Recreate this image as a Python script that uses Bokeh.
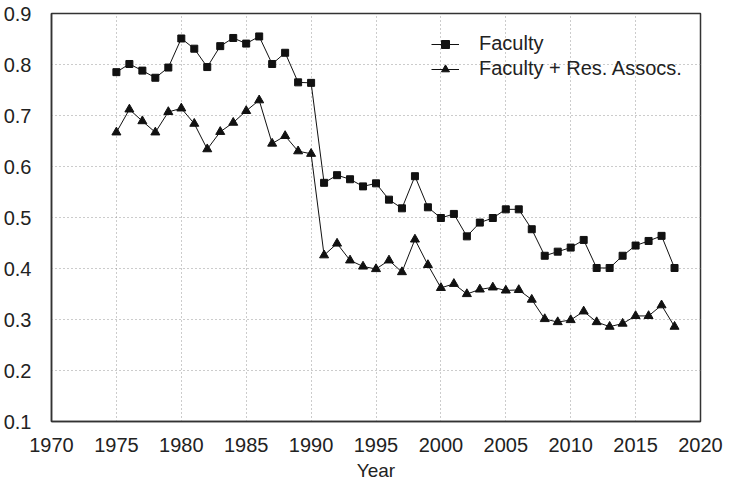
from bokeh.plotting import figure
from bokeh.models import FixedTicker, Legend, LegendItem
from bokeh.embed import file_html
from bokeh.resources import INLINE

years = list(range(1975, 2019))
faculty = [0.785, 0.801, 0.788, 0.774, 0.794, 0.851, 0.831, 0.795, 0.836, 0.852,
           0.841, 0.855, 0.801, 0.823, 0.765, 0.764, 0.568, 0.583, 0.575, 0.561,
           0.567, 0.535, 0.518, 0.581, 0.520, 0.499, 0.507, 0.463, 0.490, 0.499,
           0.516, 0.516, 0.477, 0.425, 0.433, 0.441, 0.456, 0.401, 0.401, 0.425,
           0.445, 0.454, 0.464, 0.401]
faculty_ra = [0.667, 0.712, 0.689, 0.667, 0.707, 0.714, 0.684, 0.634, 0.668, 0.686,
              0.709, 0.730, 0.645, 0.660, 0.630, 0.625, 0.426, 0.449, 0.416, 0.404,
              0.399, 0.416, 0.393, 0.457, 0.407, 0.362, 0.370, 0.350, 0.359, 0.363,
              0.357, 0.358, 0.339, 0.301, 0.295, 0.299, 0.316, 0.295, 0.286, 0.292,
              0.307, 0.307, 0.328, 0.286]
x_ticks = [1970, 1975, 1980, 1985, 1990, 1995, 2000, 2005, 2010, 2015, 2020]
y_ticks = [0.1, 0.2, 0.3, 0.4, 0.5, 0.6, 0.7, 0.8, 0.9]
series_names = ["Faculty", "Faculty + Res. Assocs."]
x_title = "Year"

FONT = "Liberation Sans"
TXT = "#222222"

# canvas is pulled up over the page's top margin so it spans the full window
p = figure(width=723, height=494, x_range=(1970, 2020), y_range=(0.1, 0.9),
           output_backend="svg", toolbar_location=None,
           min_border_left=50, min_border_right=23, min_border_top=21,
           min_border_bottom=65)
p.margin = (-8, 0, -8, 0)
p.background_fill_color = "white"
p.border_fill_color = "white"
p.outline_line_color = "#333333"
p.outline_line_width = 1.5

p.xaxis.ticker = FixedTicker(ticks=x_ticks)
p.xgrid.ticker = FixedTicker(ticks=x_ticks)
p.yaxis.ticker = FixedTicker(ticks=y_ticks)
p.ygrid.ticker = FixedTicker(ticks=y_ticks)
for ax in (p.xaxis[0], p.yaxis[0]):
    ax.major_tick_line_color = None
    ax.minor_tick_line_color = None
    ax.axis_line_color = "#333333"
    ax.axis_line_width = 1.5
    ax.major_label_text_font = FONT
    ax.major_label_text_font_size = "20px"
    ax.major_label_text_color = TXT
p.xaxis.major_label_standoff = 10
p.yaxis.major_label_standoff = 14
p.xaxis.axis_label = x_title
p.xaxis.axis_label_text_font = FONT
p.xaxis.axis_label_text_font_size = "19px"
p.xaxis.axis_label_text_font_style = "normal"
p.xaxis.axis_label_text_color = TXT
p.xaxis.axis_label_standoff = 5

for g in (p.xgrid[0], p.ygrid[0]):
    g.grid_line_color = "#999999"
    g.grid_line_dash = "1 3"
    g.grid_line_width = 1

l1 = p.line(years, faculty, line_color="#111111", line_width=1)
m1 = p.scatter(years, faculty, marker="square", size=7, fill_color="#111111",
               line_color="#111111")
l2 = p.line(years, faculty_ra, line_color="#111111", line_width=1)
m2 = p.scatter(years, faculty_ra, marker="triangle", size=9, fill_color="#111111",
               line_color="#111111")

legend = Legend(items=[LegendItem(label=series_names[0], renderers=[l1, m1]),
                       LegendItem(label=series_names[1], renderers=[l2, m2])],
                location=(380, 341), padding=0, margin=0, spacing=2,
                glyph_width=28, glyph_height=20, label_height=20,
                label_standoff=20, border_line_color=None,
                background_fill_alpha=0,
                label_text_font=FONT, label_text_font_size="20px",
                label_text_color=TXT)
p.add_layout(legend, "center")

open("out.html", "w").write(file_html(p, INLINE))
